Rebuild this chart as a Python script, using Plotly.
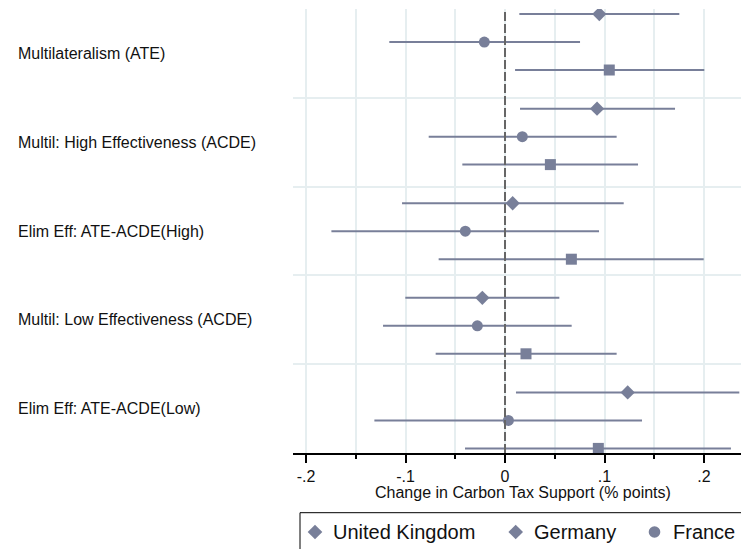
import plotly.graph_objects as go

# Outcome categories, top to bottom
categories = [
    "Multilateralism (ATE)",
    "Multil: High Effectiveness (ACDE)",
    "Elim Eff: ATE-ACDE(High)",
    "Multil: Low Effectiveness (ACDE)",
    "Elim Eff: ATE-ACDE(Low)",
]

# Point estimates and 95% confidence bounds for each of the three series
diamond_est = [0.0948, 0.0925, 0.0077, -0.0228, 0.1233]
diamond_lo = [0.0144, 0.0151, -0.1035, -0.1002, 0.0110]
diamond_hi = [0.1752, 0.1709, 0.1193, 0.0546, 0.2355]

circle_est = [-0.0208, 0.0174, -0.0399, -0.0278, 0.0034]
circle_lo = [-0.1163, -0.0767, -0.1745, -0.1226, -0.1313]
circle_hi = [0.0754, 0.1122, 0.0945, 0.0670, 0.1377]

square_est = [0.1048, 0.0456, 0.0667, 0.0211, 0.0938]
square_lo = [0.0101, -0.0429, -0.0667, -0.0697, -0.0402]
square_hi = [0.2003, 0.1337, 0.1997, 0.1122, 0.2271]

legend_labels = ["United Kingdom", "Germany", "France"]

x_tickvals = [-0.2, -0.1, 0.0, 0.1, 0.2]
x_ticktext = ["-.2", "-.1", "0", ".1", ".2"]
x_minorvals = [-0.15, -0.05, 0.05, 0.15]

# ---- styling / layout constants ----
FONT = "Liberation Sans, Arial, Helvetica, sans-serif"
MARK = "#787f99"
GRID = "#e6eef0"
W, H = 741, 549
ML, MR, MT, MB = 293, 0, 9, 96
PW, PH = W - ML - MR, H - MT - MB

FIRST = -0.128      # position of first group's middle row
GROUP_STEP = 1.0653  # distance between group centres
ROW_STEP = 0.315     # distance between rows inside a group


def px_x(px):
    return (px - ML) / PW


def px_y(py):
    return (H - MB - py) / PH


def rows(offset):
    return [FIRST + GROUP_STEP * k + ROW_STEP * offset for k in range(len(categories))]


series = [
    ("diamond", diamond_est, diamond_lo, diamond_hi, -1, 11),
    ("circle", circle_est, circle_lo, circle_hi, 0, 11),
    ("square", square_est, square_lo, square_hi, 1, 11),
]

fig = go.Figure()
for symbol, est, lo, hi, off, size in series:
    fig.add_trace(go.Scatter(
        x=est,
        y=rows(off),
        mode="markers",
        marker=dict(symbol=symbol, size=size, color=MARK, line=dict(width=0)),
        error_x=dict(
            type="data", symmetric=False,
            array=[h - e for h, e in zip(hi, est)],
            arrayminus=[e - l for e, l in zip(est, lo)],
            width=0, thickness=2, color=MARK,
        ),
        showlegend=False,
        hoverinfo="x",
    ))

# reference line at zero
fig.add_shape(type="line", xref="x", yref="paper", x0=0, x1=0, y0=0, y1=1,
              line=dict(color="#666666", width=2, dash="9px,3px"), layer="above")

annotations = []
# category labels, left aligned
for k, name in enumerate(categories):
    annotations.append(dict(
        text=name, xref="paper", yref="y", x=px_x(16), y=k,
        xanchor="left", yanchor="middle", showarrow=False,
        font=dict(family=FONT, size=16, color="#111111"),
    ))

# x axis title
annotations.append(dict(
    text="Change in Carbon Tax Support (% points)", xref="paper", yref="paper",
    x=px_x(522.5), y=px_y(492.7), xanchor="center", yanchor="middle",
    showarrow=False, font=dict(family=FONT, size=16, color="#111111"),
))

# legend: frame, keys and labels
fig.add_shape(type="rect", xref="paper", yref="paper",
              x0=px_x(300), x1=px_x(800), y0=px_y(600), y1=px_y(512.7),
              line=dict(color="black", width=1), fillcolor="rgba(0,0,0,0)")
legend_y = px_y(532)
key_x = [315, 515.7, 654.5]
text_x = [330.7, 532, 670.7]
key_kind = ["diamond", "diamond", "circle"]
for kx, tx, kind, label in zip(key_x, text_x, key_kind, legend_labels):
    if kind == "diamond":
        r = 7.3
        fig.add_shape(type="path", xref="paper", yref="paper",
                      xsizemode="pixel", ysizemode="pixel",
                      xanchor=px_x(kx), yanchor=legend_y,
                      path=f"M 0,{r} L {r},0 L 0,{-r} L {-r},0 Z",
                      fillcolor=MARK, line=dict(width=0))
    else:
        r = 5.8
        fig.add_shape(type="circle", xref="paper", yref="paper",
                      xsizemode="pixel", ysizemode="pixel",
                      xanchor=px_x(kx), yanchor=legend_y,
                      x0=-r, x1=r, y0=-r, y1=r,
                      fillcolor=MARK, line=dict(width=0))
    annotations.append(dict(
        text=label, xref="paper", yref="paper", x=px_x(tx), y=legend_y,
        xanchor="left", yanchor="middle", showarrow=False,
        font=dict(family=FONT, size=20, color="#111111"),
    ))

fig.update_layout(
    width=W, height=H,
    margin=dict(l=ML, r=MR, t=MT, b=MB, pad=0),
    paper_bgcolor="white", plot_bgcolor="white",
    font=dict(family=FONT, size=16, color="#111111"),
    annotations=annotations,
    showlegend=False,
)

fig.update_xaxes(
    range=[-0.2131, 0.2372],
    tickmode="array", tickvals=x_tickvals, ticktext=x_ticktext,
    ticks="outside", ticklen=8, tickwidth=1.5, tickcolor="black",
    tickfont=dict(family=FONT, size=16, color="#111111"),
    showline=True, linecolor="black", linewidth=1.5,
    showgrid=True, gridcolor=GRID, gridwidth=1.5,
    zeroline=False,
    minor=dict(tickmode="array", tickvals=x_minorvals, ticks="outside",
               ticklen=4, tickwidth=1.5, tickcolor="black",
               showgrid=True, gridcolor=GRID, gridwidth=1.5),
)

fig.update_yaxes(
    range=[4.5, -0.5],
    tickmode="array", tickvals=[0.5, 1.5, 2.5, 3.5],
    showticklabels=False, ticks="",
    showgrid=True, gridcolor=GRID, gridwidth=1.5,
    zeroline=False, showline=False,
)

fig.write_html("out.html")
